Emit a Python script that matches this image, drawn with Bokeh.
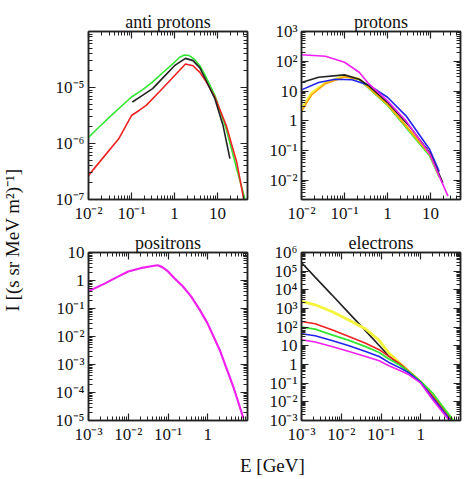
import math
from bokeh.plotting import figure
from bokeh.layouts import row, column
from bokeh.models import LogAxis, FixedTicker, CustomJSTickFormatter, Range1d
from bokeh.embed import file_html
from bokeh.resources import INLINE
from bokeh.core.properties import value

FONT = "Liberation Serif"

# ---------------- tick values and labels ----------------
ap_xticks = [0.01, 0.1, 1, 10]
ap_xlabels = ["10⁻²", "10⁻¹", "1", "10"]
ap_yticks = [1e-7, 1e-6, 1e-5, 1e-4]
ap_ylabels = ["10⁻⁷", "10⁻⁶", "10⁻⁵", ""]

pr_xticks = [0.01, 0.1, 1, 10]
pr_xlabels = ["10⁻²", "10⁻¹", "1", "10"]
pr_yticks = [1e-2, 1e-1, 1, 10, 1e2, 1e3]
pr_ylabels = ["10⁻²", "10⁻¹", "1", "10", "10²", "10³"]

po_xticks = [1e-3, 1e-2, 1e-1, 1]
po_xlabels = ["10⁻³", "10⁻²", "10⁻¹", "1"]
po_yticks = [1e-5, 1e-4, 1e-3, 1e-2, 1e-1, 1, 10]
po_ylabels = ["10⁻⁵", "10⁻⁴", "10⁻³", "10⁻²", "10⁻¹", "1", "10"]

el_xticks = [1e-3, 1e-2, 1e-1, 1]
el_xlabels = ["10⁻³", "10⁻²", "10⁻¹", "1"]
el_yticks = [1e-3, 1e-2, 1e-1, 1, 10, 1e2, 1e3, 1e4, 1e5, 1e6]
el_ylabels = ["10⁻³", "10⁻²", "10⁻¹", "1", "10", "10²", "10³", "10⁴", "10⁵", "10⁶"]

# ---------------- anti protons ----------------
ap_green_E = [0.01, 0.0174, 0.035, 0.1, 0.18, 0.31, 0.58, 1.0, 1.32, 1.7, 2.2, 2.95, 3.9, 5.5,
              8.7, 16, 28, 44]
ap_green_I = [1.29e-6, 1.95e-6, 3.24e-6, 6.76e-6, 9.1e-6, 1.26e-5, 1.95e-5, 2.82e-5, 3.47e-5,
              3.80e-5, 3.72e-5, 3.16e-5, 2.45e-5, 1.51e-5, 7.24e-6, 1.82e-6, 3.55e-7, 1.0e-7]
ap_red_E = [0.01, 0.021, 0.05, 0.1, 0.15, 0.22, 0.44, 1.0, 1.8, 2.7, 3.9, 5.5, 8.7, 16, 28, 41]
ap_red_I = [2.69e-7, 5.37e-7, 1.2e-6, 3.16e-6, 3.89e-6, 4.79e-6, 8.3e-6, 1.62e-5, 2.63e-5,
            2.45e-5, 1.86e-5, 1.26e-5, 6.76e-6, 2.09e-6, 4.68e-7, 1.0e-7]
ap_black_E = [0.105, 0.18, 0.31, 0.58, 1.0, 1.8, 2.7, 3.9, 5.5, 8.7, 13.5, 19.5]
ap_black_I = [5.5e-6, 7.24e-6, 9.55e-6, 1.58e-5, 2.45e-5, 3.31e-5, 3.02e-5, 2.24e-5, 1.32e-5,
              6.3e-6, 2.09e-6, 5.37e-7]

# ---------------- protons ----------------
pr_magenta_E = [0.01, 0.036, 0.1, 0.22, 0.37, 1.0, 2.7, 9.6, 16, 25.6]
pr_magenta_I = [166, 148, 93, 43, 17.4, 4.7, 1.0, 0.079, 0.014, 0.003]
pr_black_E = [0.01, 0.025, 0.1, 0.22, 0.37, 1.0, 3.2, 9.6, 19.5]
pr_black_I = [19.5, 29, 35, 25, 15, 4.2, 0.68, 0.085, 0.0083]
pr_blue_E = [0.01, 0.025, 0.061, 0.15, 0.37, 1.0, 2.7, 9.6, 16]
pr_blue_I = [11, 19.5, 25, 24, 15.8, 6.2, 1.48, 0.11, 0.02]
pr_yellow_E = [0.01, 0.0174, 0.036, 0.1, 0.22, 1.0, 2.7, 9.6, 16]
pr_yellow_I = [2.7, 9.1, 19.5, 34, 26, 3.6, 0.68, 0.076, 0.014]
pr_orange_E = [0.01, 0.0174, 0.036, 0.1, 0.22, 1.0, 2.7, 9.6, 16]
pr_orange_I = [2.1, 7.6, 17.8, 30, 25, 3.6, 0.68, 0.076, 0.014]
pr_green_E = [0.1, 0.22, 1.0, 2.7, 9.6, 16]
pr_green_I = [31.6, 24, 3.3, 0.6, 0.066, 0.0126]

# ---------------- positrons ----------------
po_E = [0.001, 0.0026, 0.0052, 0.01, 0.0204, 0.041, 0.055, 0.072, 0.1, 0.145, 0.235, 0.38,
        0.63, 0.98, 2.0, 4.4, 7.9]
po_I = [0.41, 0.79, 1.32, 2.1, 2.75, 3.3, 3.5, 3.0, 2.1, 1.2, 0.62, 0.27,
        0.089, 0.030, 0.0033, 1.6e-4, 1.2e-5]

# ---------------- electrons ----------------
el_E = [0.001, 0.0022, 0.0058, 0.015, 0.041, 0.09, 0.158, 0.3, 0.51, 1.0, 2.0]
el_black_I = [2.9e5, 4.8e4, 5400, 617, 63, 10.5, 2.8, 0.95, 0.35, 0.12, 0.0195]
el_yellow_I = [2400, 1585, 690, 250, 80, 19.5, 4.1, 1.17, 0.42, 0.12, 0.023]
el_red_I = [200, 151, 72, 33, 13.8, 6.2, 2.7, 1.1, 0.42, 0.12, 0.02]
el_green_I = [100, 78, 39, 20, 9.1, 4.4, 1.95, 0.91, 0.40, 0.125, 0.029]
el_blue_I = [44, 35, 19.5, 10.5, 5.0, 2.7, 1.29, 0.66, 0.35, 0.11, 0.016]
el_magenta_I = [21, 16.2, 9.1, 5.1, 2.7, 1.58, 0.85, 0.48, 0.28, 0.10, 0.013]
el_end_E = {"black": 5.9, "yellow": 6.5, "red": 6.3, "green": 6.6, "blue": 5.6, "magenta": 5.2}
el_end_I = 0.001

C_BLACK = "#222222"
C_RED = "#ee2222"
C_GREEN = "#33e633"
C_BLUE = "#2222ee"
C_MAGENTA = "#f020f0"
C_YELLOW = "#f4f43a"
C_ORANGE = "#ffa500"

TICK_SIZE = "17px"
TITLE_SIZE = "18px"


def minors(lo, hi):
    out = []
    d = math.floor(math.log10(lo)) - 1
    while 10 ** d <= hi:
        for k in range(2, 10):
            v = k * 10 ** d
            if lo < v < hi:
                out.append(v)
        d += 1
    return out


def fmt(tvals, tlabels):
    return CustomJSTickFormatter(args=dict(tv=tvals, tl=tlabels), code="""
        for (let i = 0; i < tv.length; i++) {
            if (Math.abs(Math.log10(tv[i]) - Math.log10(tick)) < 1e-6) return tl[i];
        }
        return "";
    """)


def style_axis(ax, show_labels):
    ax.axis_line_color = C_BLACK
    ax.axis_line_width = 1.5
    ax.major_tick_in = 7
    ax.major_tick_out = 0
    ax.minor_tick_in = 4
    ax.minor_tick_out = 0
    ax.major_tick_line_color = C_BLACK
    ax.minor_tick_line_color = C_BLACK
    ax.major_tick_line_width = 1.2
    ax.minor_tick_line_width = 1.0
    ax.major_label_text_font = FONT
    ax.major_label_text_font_style = "normal"
    ax.major_label_text_color = "#111111"
    if show_labels:
        ax.major_label_text_font_size = TICK_SIZE
        ax.major_label_standoff = 4
    else:
        ax.major_label_text_font_size = "1px"
        ax.major_label_standoff = 0


def panel(title, xr, yr, xt, xl, yt, yl, width, height, bl, br, bt, bb):
    p = figure(width=width, height=height, x_axis_type="log", y_axis_type="log",
               x_range=Range1d(*xr), y_range=Range1d(*yr),
               output_backend="svg", toolbar_location=None,
               min_border_left=bl, min_border_right=br, min_border_top=bt, min_border_bottom=bb)
    p.grid.visible = False
    p.outline_line_color = C_BLACK
    p.outline_line_width = 1.5
    p.background_fill_color = "white"
    p.border_fill_color = "white"
    p.xaxis.ticker = FixedTicker(ticks=xt, minor_ticks=minors(*xr))
    p.yaxis.ticker = FixedTicker(ticks=yt, minor_ticks=minors(*yr))
    p.xaxis.formatter = fmt(xt, xl)
    p.yaxis.formatter = fmt(yt, yl)
    for ax in p.xaxis + p.yaxis:
        style_axis(ax, True)
    top = LogAxis(ticker=FixedTicker(ticks=xt, minor_ticks=minors(*xr)),
                  formatter=CustomJSTickFormatter(code="return '';"))
    right = LogAxis(ticker=FixedTicker(ticks=yt, minor_ticks=minors(*yr)),
                    formatter=CustomJSTickFormatter(code="return '';"))
    style_axis(top, False)
    style_axis(right, False)
    p.add_layout(top, "above")
    p.add_layout(right, "right")
    p.title.text = title
    p.title.align = "center"
    p.title.text_font = FONT
    p.title.text_font_size = TITLE_SIZE
    p.title.text_font_style = "normal"
    p.title.text_color = "#111111"
    p.title.standoff = 0
    return p


A = panel("anti protons", (0.01, 50), (1e-7, 1e-4), ap_xticks, ap_xlabels, ap_yticks, ap_ylabels,
          225, 228, 58, 8, 31, 29)
A.line(ap_green_E, ap_green_I, line_color=C_GREEN, line_width=1.6)
A.line(ap_red_E, ap_red_I, line_color=C_RED, line_width=1.6)
A.line(ap_black_E, ap_black_I, line_color=C_BLACK, line_width=1.6)

B = panel("protons", (0.01, 50), (2.3e-3, 1e3), pr_xticks, pr_xlabels, pr_yticks, pr_ylabels,
          214, 228, 46, 9, 31, 29)
B.line(pr_green_E, pr_green_I, line_color=C_GREEN, line_width=1.6)
B.line(pr_yellow_E, pr_yellow_I, line_color=C_YELLOW, line_width=1.8)
B.line(pr_orange_E, pr_orange_I, line_color=C_ORANGE, line_width=1.6)
B.line(pr_blue_E, pr_blue_I, line_color=C_BLUE, line_width=1.6)
B.line(pr_black_E, pr_black_I, line_color=C_BLACK, line_width=1.6)
B.line(pr_magenta_E, pr_magenta_I, line_color=C_MAGENTA, line_width=1.6)

C = panel("positrons", (1e-3, 10), (1e-5, 10), po_xticks, po_xlabels, po_yticks, po_ylabels,
          225, 223, 58, 8, 24, 31)
C.line(po_E, po_I, line_color=C_MAGENTA, line_width=2.2)

D = panel("electrons", (1e-3, 10), (1e-3, 1e6), el_xticks, el_xlabels, el_yticks, el_ylabels,
          214, 223, 46, 9, 24, 31)
for name, ys, col, lw in [("black", el_black_I, C_BLACK, 1.6), ("yellow", el_yellow_I, C_YELLOW, 2.8),
                          ("red", el_red_I, C_RED, 1.6), ("green", el_green_I, C_GREEN, 1.8),
                          ("blue", el_blue_I, C_BLUE, 1.6), ("magenta", el_magenta_I, C_MAGENTA, 1.6)]:
    D.line(el_E + [el_end_E[name]], ys + [el_end_I], line_color=col, line_width=lw)


def text_fig(width, height, txt, angle, xpos, ypos):
    f = figure(width=width, height=height, x_range=Range1d(0, 1), y_range=Range1d(0, 1),
               output_backend="svg", toolbar_location=None,
               min_border_left=0, min_border_right=0, min_border_top=0, min_border_bottom=0)
    f.axis.visible = False
    f.grid.visible = False
    f.outline_line_color = None
    f.text(x=[xpos], y=[ypos], text=[txt], angle=angle, text_align="center",
           text_baseline="middle", text_font=value(FONT), text_font_size="19px",
           text_color="#111111")
    return f


ylab = text_fig(30, 479, "I [(s sr MeV m²)⁻¹]", math.pi / 2, 0.4, 0.5)
xlab = text_fig(439, 28, "E [GeV]", 0, 0.551, 0.5)

layout = row(ylab, column(row(A, B), row(C, D), xlab))

open("out.html", "w").write(file_html(layout, INLINE))
